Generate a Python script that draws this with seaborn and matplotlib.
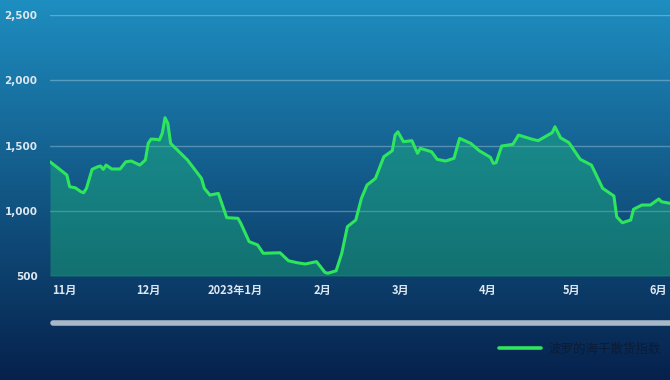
import numpy as np
import pandas as pd
import matplotlib
matplotlib.use("Agg")
import matplotlib.pyplot as plt
from matplotlib.lines import Line2D
import seaborn as sns

# ---------------- data ----------------
dates = ["2022-10-27", "2022-10-30", "2022-11-01", "2022-11-02", "2022-11-03", "2022-11-05",
         "2022-11-07", "2022-11-08", "2022-11-09", "2022-11-11", "2022-11-13", "2022-11-14",
         "2022-11-15", "2022-11-16", "2022-11-18", "2022-11-21", "2022-11-23", "2022-11-25",
         "2022-11-28", "2022-11-30", "2022-12-01", "2022-12-02", "2022-12-04", "2022-12-05",
         "2022-12-06", "2022-12-07", "2022-12-08", "2022-12-09", "2022-12-15", "2022-12-20",
         "2022-12-21", "2022-12-23", "2022-12-26", "2022-12-29", "2023-01-02", "2023-01-03",
         "2023-01-06", "2023-01-09", "2023-01-11", "2023-01-17", "2023-01-20", "2023-01-23",
         "2023-01-26", "2023-01-30", "2023-02-02", "2023-02-03", "2023-02-06", "2023-02-08",
         "2023-02-10", "2023-02-13", "2023-02-15", "2023-02-17", "2023-02-20", "2023-02-23",
         "2023-02-26", "2023-02-27", "2023-02-28", "2023-03-02", "2023-03-05", "2023-03-07",
         "2023-03-08", "2023-03-12", "2023-03-14", "2023-03-17", "2023-03-20", "2023-03-22",
         "2023-03-26", "2023-03-29", "2023-04-02", "2023-04-03", "2023-04-04", "2023-04-06",
         "2023-04-10", "2023-04-12", "2023-04-17", "2023-04-19", "2023-04-24", "2023-04-25",
         "2023-04-27", "2023-04-30", "2023-05-04", "2023-05-08", "2023-05-12", "2023-05-16",
         "2023-05-17", "2023-05-19", "2023-05-22", "2023-05-23", "2023-05-26", "2023-05-29",
         "2023-06-01", "2023-06-02", "2023-06-05"]
bdi = [1375, 1325, 1291, 1274, 1184, 1176,
       1146, 1138, 1172, 1317, 1337, 1343,
       1317, 1350, 1320, 1320, 1375, 1381,
       1350, 1389, 1516, 1549, 1547, 1542,
       1593, 1713, 1670, 1516, 1389, 1248,
       1172, 1120, 1133, 947, 942, 904,
       763, 738, 674, 678, 617, 602,
       592, 610, 528, 521, 540, 674,
       878, 929, 1095, 1197, 1248, 1414,
       1460, 1580, 1605, 1529, 1537, 1440,
       1478, 1452, 1394, 1381, 1402, 1555,
       1516, 1460, 1409, 1363, 1368, 1496,
       1509, 1580, 1547, 1537, 1598, 1644,
       1559, 1521, 1394, 1350, 1172, 1113,
       954, 908, 929, 1011, 1044, 1044,
       1090, 1069, 1057]
month_ticks = ["2022-11-01", "2022-12-01", "2023-01-01", "2023-02-01", "2023-03-01",
               "2023-04-01", "2023-05-01", "2023-06-01"]
month_labels = ["11月", "12月", "2023年1月", "2月", "3月", "4月", "5月", "6月"]
y_ticks = [500, 1000, 1500, 2000, 2500]
y_labels = ["500", "1,000", "1,500", "2,000", "2,500"]
series_name = "波罗的海干散货指数"

df = pd.DataFrame({"date": pd.to_datetime(dates), "value": bdi})

# ---------------- figure ----------------
sns.set_theme(style="white")
plt.rcParams["font.family"] = ["Noto Sans CJK SC", "DejaVu Sans"]

W, H = 670, 380
fig = plt.figure(figsize=(W / 100, H / 100), dpi=100)

# gradient background
bg = fig.add_axes([0, 0, 1, 1])
top = np.array([30, 142, 192]) / 255
bot = np.array([6, 33, 76]) / 255
t = np.linspace(0, 1, 256)[:, None]
grad = (top[None, :] * (1 - t) + bot[None, :] * t)[:, None, :]
bg.imshow(grad, aspect="auto", extent=[0, 1, 0, 1], origin="upper")
bg.set_axis_off()

ax = fig.add_axes([50 / W, 1 - 276 / H, 620 / W, (276 - 15) / H])
ax.set_facecolor("none")

ax.fill_between(df["date"], df["value"], 500, color=(0.12, 0.78, 0.48), alpha=0.37,
                linewidth=0, zorder=2)
sns.lineplot(data=df, x="date", y="value", ax=ax, color="#2ee65c", linewidth=2.2,
             zorder=3, label=series_name, legend=False)

ax.set_xlim(pd.Timestamp("2022-10-27"), pd.Timestamp("2023-06-05"))
ax.set_ylim(500, 2500)

ax.set_yticks(y_ticks)
ax.set_yticklabels(y_labels, fontsize=7.5, fontweight="bold", color="#dde7f0",
                   family=["DejaVu Sans"])
ax.set_xticks(pd.to_datetime(month_ticks))
ax.set_xticklabels(month_labels, fontsize=8, color="#dde7f0", fontweight="bold")
ax.tick_params(axis="y", length=0, pad=9)
ax.tick_params(axis="x", length=0, pad=6)
ax.set_xlabel("")
ax.set_ylabel("")

ax.grid(axis="y", color="white", alpha=0.28, linewidth=1.0, zorder=1)
ax.grid(axis="x", visible=False)
for s in ax.spines.values():
    s.set_visible(False)

# scrollbar
fig.add_artist(Line2D([53 / W, 1.02], [1 - 323 / H, 1 - 323 / H], transform=fig.transFigure,
                      color="#a9b8c8", linewidth=4.0, solid_capstyle="round"))

# legend
handles = [Line2D([0], [0], color="#2ee65c", linewidth=2.6)]
leg = fig.legend(handles, [series_name], loc="center", bbox_to_anchor=(580 / W, 1 - 349 / H),
                 bbox_transform=fig.transFigure, frameon=False, fontsize=9,
                 handlelength=3.4, handletextpad=0.6)
for txt in leg.get_texts():
    txt.set_color("#0b1c36")

fig.savefig("out.png", dpi=100)
